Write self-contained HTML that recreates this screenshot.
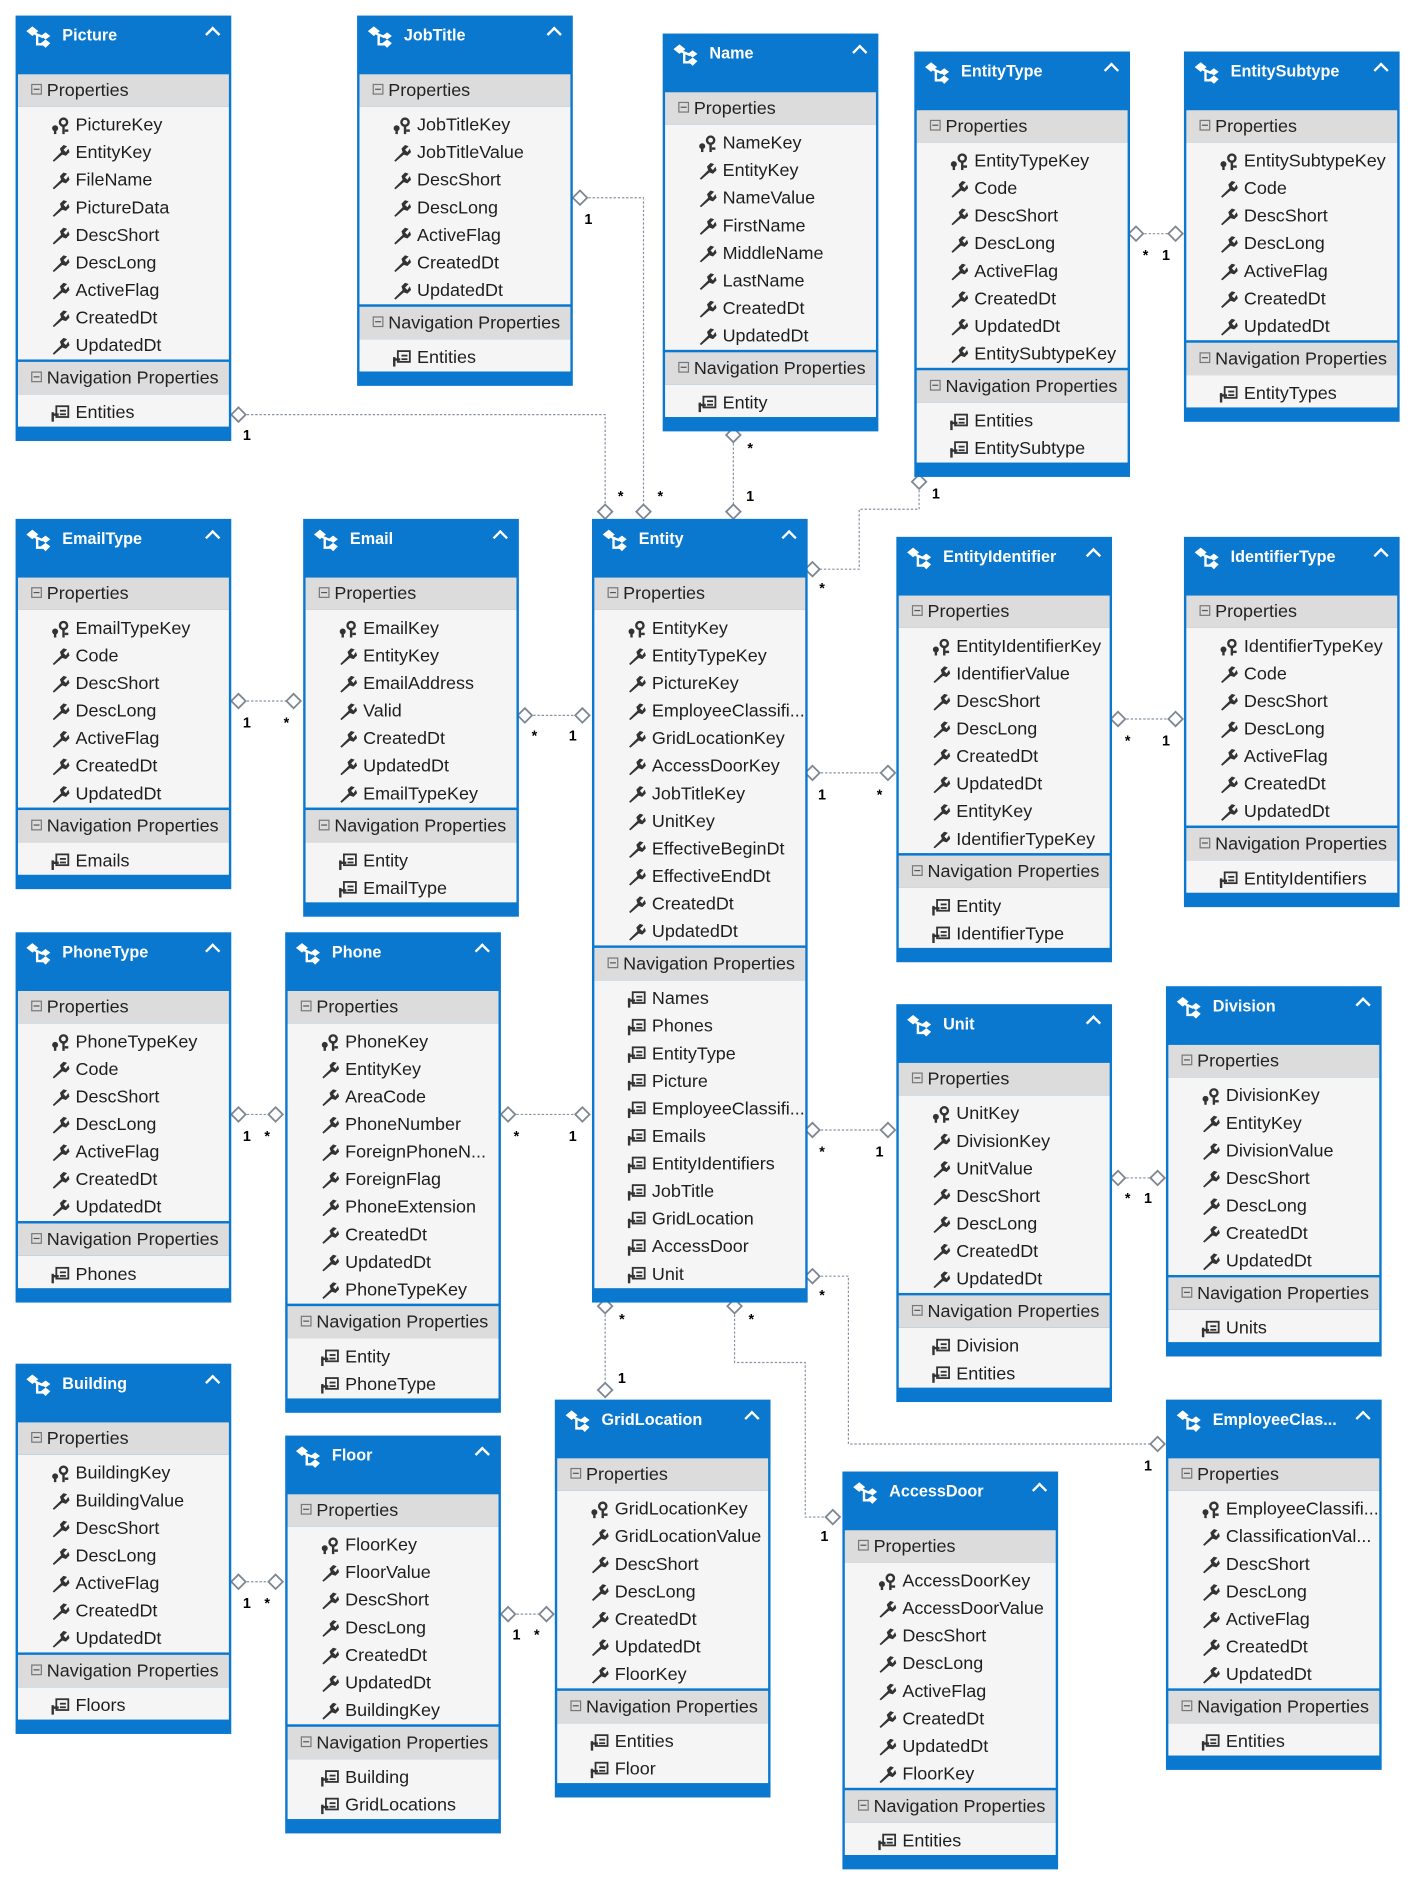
<!DOCTYPE html>
<html><head><meta charset="utf-8">
<style>
html,body{margin:0;padding:0;background:#fff;}
body{width:1414px;height:1882px;overflow:hidden;position:relative;font-family:"Liberation Sans",sans-serif;}
#stage{position:absolute;left:0;top:0;width:1180px;height:1571px;transform:scale(1.19831);transform-origin:0 0;}
.box{position:absolute;width:180px;background:#0a78cf;box-sizing:border-box;padding:0 2px 12px 2px;}
.hdr{height:49px;position:relative;color:#fff;font-weight:bold;font-size:13.5px;}
.hdr .t{position:absolute;left:37px;top:9px;}
.hdr .ic{position:absolute;left:6px;top:8px;}
.hdr .chev{position:absolute;right:9px;top:11px;width:7px;height:7px;border-left:2px solid #fff;border-top:2px solid #fff;transform:rotate(45deg);}
.sec{height:27px;background:#dcdcdc;position:relative;font-size:15px;color:#222;line-height:27px;}
.sec .m{position:absolute;left:11px;top:8px;width:7px;height:7px;border:1px solid #777;font-size:0;}
.sec .m:after{content:"";position:absolute;left:1px;top:3px;width:5px;height:1px;background:#555;}
.sec .t{position:absolute;left:24px;}
.items{background:#f5f5f5;padding:4px 0 0 0;}
.sep{height:2px;background:#0a78cf;}
.it{height:23px;line-height:23px;font-size:15px;color:#1e1e1e;position:relative;white-space:nowrap;}
.it .t{position:absolute;left:48px;}
.it svg{position:absolute;left:27px;top:5px;}
</style></head>
<body>
<div id="stage">
<svg id="lines" width="1180" height="1571" style="position:absolute;left:0;top:0"></svg>
</div>
<script>
const boxes=[
["Picture",13,13,["PictureKey","EntityKey","FileName","PictureData","DescShort","DescLong","ActiveFlag","CreatedDt","UpdatedDt"],["Entities"]],
["JobTitle",298,13,["JobTitleKey","JobTitleValue","DescShort","DescLong","ActiveFlag","CreatedDt","UpdatedDt"],["Entities"]],
["Name",553,28,["NameKey","EntityKey","NameValue","FirstName","MiddleName","LastName","CreatedDt","UpdatedDt"],["Entity"]],
["EntityType",763,43,["EntityTypeKey","Code","DescShort","DescLong","ActiveFlag","CreatedDt","UpdatedDt","EntitySubtypeKey"],["Entities","EntitySubtype"]],
["EntitySubtype",988,43,["EntitySubtypeKey","Code","DescShort","DescLong","ActiveFlag","CreatedDt","UpdatedDt"],["EntityTypes"]],
["EmailType",13,433,["EmailTypeKey","Code","DescShort","DescLong","ActiveFlag","CreatedDt","UpdatedDt"],["Emails"]],
["Email",253,433,["EmailKey","EntityKey","EmailAddress","Valid","CreatedDt","UpdatedDt","EmailTypeKey"],["Entity","EmailType"]],
["Entity",494,433,["EntityKey","EntityTypeKey","PictureKey","EmployeeClassifi...","GridLocationKey","AccessDoorKey","JobTitleKey","UnitKey","EffectiveBeginDt","EffectiveEndDt","CreatedDt","UpdatedDt"],["Names","Phones","EntityType","Picture","EmployeeClassifi...","Emails","EntityIdentifiers","JobTitle","GridLocation","AccessDoor","Unit"]],
["EntityIdentifier",748,448,["EntityIdentifierKey","IdentifierValue","DescShort","DescLong","CreatedDt","UpdatedDt","EntityKey","IdentifierTypeKey"],["Entity","IdentifierType"]],
["IdentifierType",988,448,["IdentifierTypeKey","Code","DescShort","DescLong","ActiveFlag","CreatedDt","UpdatedDt"],["EntityIdentifiers"]],
["PhoneType",13,778,["PhoneTypeKey","Code","DescShort","DescLong","ActiveFlag","CreatedDt","UpdatedDt"],["Phones"]],
["Phone",238,778,["PhoneKey","EntityKey","AreaCode","PhoneNumber","ForeignPhoneN...","ForeignFlag","PhoneExtension","CreatedDt","UpdatedDt","PhoneTypeKey"],["Entity","PhoneType"]],
["Unit",748,838,["UnitKey","DivisionKey","UnitValue","DescShort","DescLong","CreatedDt","UpdatedDt"],["Division","Entities"]],
["Division",973,823,["DivisionKey","EntityKey","DivisionValue","DescShort","DescLong","CreatedDt","UpdatedDt"],["Units"]],
["Building",13,1138,["BuildingKey","BuildingValue","DescShort","DescLong","ActiveFlag","CreatedDt","UpdatedDt"],["Floors"]],
["Floor",238,1198,["FloorKey","FloorValue","DescShort","DescLong","CreatedDt","UpdatedDt","BuildingKey"],["Building","GridLocations"]],
["GridLocation",463,1168,["GridLocationKey","GridLocationValue","DescShort","DescLong","CreatedDt","UpdatedDt","FloorKey"],["Entities","Floor"]],
["AccessDoor",703,1228,["AccessDoorKey","AccessDoorValue","DescShort","DescLong","ActiveFlag","CreatedDt","UpdatedDt","FloorKey"],["Entities"]],
["EmployeeClas...",973,1168,["EmployeeClassifi...","ClassificationVal...","DescShort","DescLong","ActiveFlag","CreatedDt","UpdatedDt"],["Entities"]]
];
const keyIc='<svg width="16" height="14" viewBox="0 0 16 14"><circle cx="11" cy="4" r="3" fill="none" stroke="#333" stroke-width="2"/><rect x="10" y="6" width="2" height="8" fill="#333"/><rect x="12" y="10" width="3" height="2" fill="#333"/><circle cx="4" cy="9" r="2.5" fill="#333"/><rect x="3" y="9" width="2" height="5" fill="#333"/></svg>';
const wrIc='<svg width="16" height="14" viewBox="0 0 16 14"><path d="M2 13 L9 6 L8 3 L11 0 L14 1 L11 4 L13 6 L15 3 L16 6 L13 9 L10 8 L3 14 Z" fill="#333"/></svg>';
const navIc='<svg width="16" height="14" viewBox="0 0 16 14"><rect x="5" y="1" width="10" height="9" fill="none" stroke="#333" stroke-width="1.5"/><rect x="8" y="4" width="5" height="1.5" fill="#333"/><rect x="8" y="7" width="5" height="1.5" fill="#333"/><rect x="1" y="6" width="2" height="8" fill="#333"/><rect x="1" y="7" width="6" height="2" fill="#333"/></svg>';
const entIc='<svg width="22" height="20" viewBox="0 0 22 20"><path d="M1 5 L6 1 L11 5 L6 9Z M13 9 L17 6 L21 9 L17 12Z M13 15 L17 12 L21 15 L17 19Z" fill="#fff"/><path d="M8 7 L15 10 M10 8 L10 16 L15 16" stroke="#fff" stroke-width="2" fill="none"/></svg>';
const stage=document.getElementById('stage');
function section(title,items,isNav,parent){
  const s=document.createElement('div');s.className='sec';
  
  
  s.innerHTML='<span class="m"></span><span class="t">'+title+'</span>';
  parent.appendChild(s);
  const w=document.createElement('div');w.className='items';
  items.forEach((n,i)=>{
    const r=document.createElement('div');r.className='it';
    
    
    r.innerHTML=(isNav?navIc:(i==0?keyIc:wrIc))+'<span class="t">'+n+'</span>';
    w.appendChild(r);
  });
  parent.appendChild(w);
}
boxes.forEach(b=>{
  const d=document.createElement('div');d.className='box';
  d.style.left=b[1]+'px';d.style.top=b[2]+'px';
  
  
  const h=document.createElement('div');h.className='hdr';
  
  
  h.innerHTML='<span class="ic">'+entIc+'</span><span class="t">'+b[0]+'</span><span class="chev"></span>';
  d.appendChild(h);
  section('Properties',b[3],false,d);
  const sp=document.createElement('div');sp.className='sep';d.appendChild(sp);
  section('Navigation Properties',b[4],true,d);
  stage.appendChild(d);
});
const links=[
[[[199,346],[505,346],[505,427]],[199,346],[505,427],[[206,362,'1'],[518,413,'*']]],
[[[484,165],[537,165],[537,427]],[484,165],[537,427],[[491,182,'1'],[551,413,'*']]],
[[[612,363],[612,427]],[612,363],[612,427],[[626,373,'*'],[626,413,'1']]],
[[[767,402],[767,425],[717,425],[717,475],[678,475]],[767,402],[678,475],[[781,411,'1'],[686,490,'*']]],
[[[948,195],[981,195]],[948,195],[981,195],[[956,212,'*'],[973,212,'1']]],
[[[199,585],[245,585]],[199,585],[245,585],[[206,602,'1'],[239,602,'*']]],
[[[438,597],[486,597]],[438,597],[486,597],[[446,613,'*'],[478,613,'1']]],
[[[678,645],[741,645]],[678,645],[741,645],[[686,662,'1'],[734,662,'*']]],
[[[933,600],[981,600]],[933,600],[981,600],[[941,617,'*'],[973,617,'1']]],
[[[199,930],[230,930]],[199,930],[230,930],[[206,947,'1'],[223,947,'*']]],
[[[424,930],[486,930]],[424,930],[486,930],[[431,947,'*'],[478,947,'1']]],
[[[678,943],[741,943]],[678,943],[741,943],[[686,960,'*'],[734,960,'1']]],
[[[933,983],[966,983]],[933,983],[966,983],[[941,999,'*'],[958,999,'1']]],
[[[678,1065],[708,1065],[708,1205],[966,1205]],[678,1065],[966,1205],[[686,1080,'*'],[958,1222,'1']]],
[[[505,1090],[505,1160]],[505,1090],[505,1160],[[519,1100,'*'],[519,1149,'1']]],
[[[613,1090],[613,1137],[672,1137],[672,1266],[695,1266]],[613,1090],[695,1266],[[627,1100,'*'],[688,1281,'1']]],
[[[199,1320],[230,1320]],[199,1320],[230,1320],[[206,1337,'1'],[223,1337,'*']]],
[[[424,1347],[456,1347]],[424,1347],[456,1347],[[431,1363,'1'],[448,1363,'*']]]
];
const svg=document.getElementById('lines');
let html='';
links.forEach(l=>{
  html+='<polyline points="'+l[0].map(p=>p.join(',')).join(' ')+'" fill="none" stroke="#8a93a0" stroke-width="1" stroke-dasharray="2,1.5"/>';
  [l[1],l[2]].forEach(p=>{
    const x=p[0],y=p[1];
    html+='<polygon points="'+(x-6)+','+y+' '+x+','+(y-6)+' '+(x+6)+','+y+' '+x+','+(y+6)+'" fill="#fff" stroke="#7d8793" stroke-width="1.5"/>';
  });
  l[3].forEach(t=>{
    html+='<text x="'+t[0]+'" y="'+(t[1]+5)+'" font-family="Liberation Sans, sans-serif" font-size="12" font-weight="bold" text-anchor="middle">'+t[2]+'</text>';
  });
});
svg.innerHTML=html;
</script>
</body></html>
